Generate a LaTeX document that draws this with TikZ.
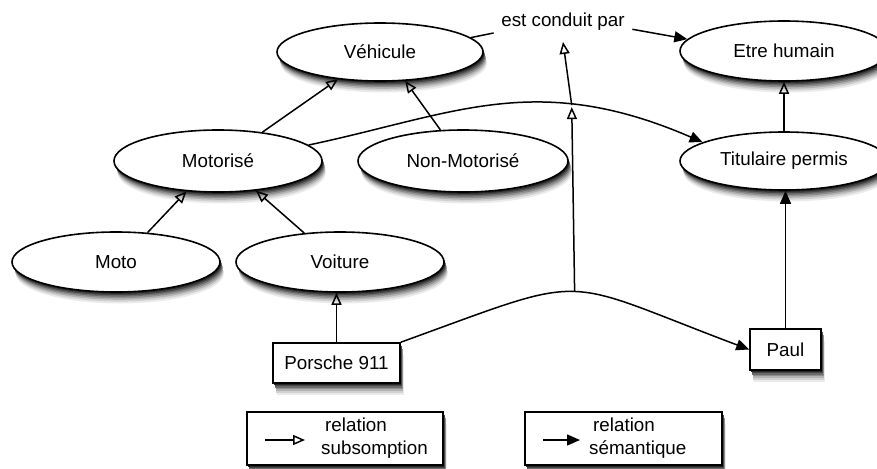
\documentclass[tikz,border=0pt]{standalone}
\usepackage{fontspec}
\setmainfont{Liberation Sans}
\usetikzlibrary{shapes.geometric,arrows.meta}

\tikzset{
  every node/.style={font=\fontsize{18.8}{23}\selectfont},
  concept/.style={ellipse,draw,line width=1.6pt,fill=white,minimum width=208pt,minimum height=60pt,inner sep=0pt},
  inst/.style={rectangle,draw,line width=1.6pt,fill=white,inner sep=0pt},
  isa/.style={line width=1.5pt,-{Triangle[open,length=12pt,width=10pt]}},
  rel/.style={line width=1.5pt,-{Triangle[length=13pt,width=11pt]}},
  plainlink/.style={line width=1.5pt},
}

\begin{document}
\begin{tikzpicture}[x=1pt,y=-1pt]
\useasboundingbox (0,0) rectangle (877,468);
\clip (0,0) rectangle (877,468);

% soft drop shadows, drawn first: stacked grey copies, lightest and farthest first
\foreach \dx/\dy/\g in {3.8/11.5/8, 3.4/9.6/18, 3/7.8/30, 2.6/6.2/44, 2.1/4.6/58, 1.6/3.2/72, 1/1.8/85} {
  \foreach \cx/\cy/\rx/\ry in {380/52/103/29, 784/51/104/30, 218/161/104/31, 463/161/105/31, 784/161/104/29, 116/262/104/30, 340/262/104/30} {
    \fill[black!\g] (\cx+\dx,\cy+\dy) ellipse [x radius=\rx, y radius=\ry];
  }
  \foreach \cx/\cy/\hw/\hh in {336.5/363/63.5/20, 785.5/349.5/35.5/20.5, 345/438.5/98/26.5, 623.5/438.5/98.5/26.5} {
    \fill[black!\g] (\cx-\hw+\dx,\cy-\hh+\dy) rectangle (\cx+\hw+\dx,\cy+\hh+\dy);
  }
}

% concepts
\node[concept,minimum width=206pt,minimum height=58pt] (veh) at (380,52) {Véhicule};
\node[concept] (etre) at (784,51) {Etre humain};
\node[concept,minimum height=62pt] (mot) at (218,161) {Motorisé};
\node[concept,minimum width=210pt,minimum height=62pt] (nonmot) at (463,161) {Non-Motorisé};
\node[concept,minimum height=58pt] (tit) at (784,161) {Titulaire permis};
\node[concept] (moto) at (116,262) {Moto};
\node[concept] (voit) at (340,262) {Voiture};

% instances
\node[inst,minimum width=127pt,minimum height=40pt] (porsche) at (336.5,363) {Porsche 911};
\node[inst,minimum width=71pt,minimum height=41pt] (paul) at (785.5,349.5) {Paul};

% relation label
\node[inner xsep=7.5pt,inner ysep=11pt] (conduit) at (563,22) {est conduit par};

% subsumption links
\draw[isa] (mot.33) -- (veh.-147);
\draw[isa] (nonmot.126.6) -- (veh.-49);
\draw[isa] (moto.43) -- (mot.-136);
\draw[isa] (voit.141) -- (mot.-38.7);
\draw[isa] (porsche.north) -- (porsche.north |- voit.south);
\draw[isa] (tit.north) -- (etre.south);

% semantic links
\draw[rel] (paul.north) -- (paul.north |- tit.south);
\draw[plainlink] (veh.9) -- (conduit.-171);
\draw[rel] (conduit.-6) -- (etre.173.5);
\draw[rel] (mot.10) .. controls (455,114) and (536,70) .. (tit.167.8) coordinate[pos=0.7] (c1);
\draw[rel] (porsche.north east) .. controls (595,272) and (554,276) .. (paul.west) coordinate[pos=0.5] (c2);

% the instance link specialises the concept link, which specialises the relation
\draw[isa,shorten >=2pt] (c2) -- (c1);
\draw[isa] (c1) -- (conduit.south);

% legend
\node[inst,minimum width=196pt,minimum height=53pt] (leg1) at (345,438.5) {};
\node[inst,minimum width=197pt,minimum height=53pt] (leg2) at (623.5,438.5) {};
\node[anchor=west,align=left,inner sep=0pt] (leg1t) at (321,438.5) {\hspace*{4pt}relation\\subsomption};
\node[anchor=west,align=left,inner sep=0pt] (leg2t) at (589,438.5) {\hspace*{4pt}relation\\sémantique};
\coordinate (l1a) at (265,440);
\coordinate (l1b) at (305,440);
\coordinate (l2a) at (543,440);
\coordinate (l2b) at (580,440);
\draw[isa] (l1a) -- (l1b);
\draw[rel] (l2a) -- (l2b);
\end{tikzpicture}
\end{document}
